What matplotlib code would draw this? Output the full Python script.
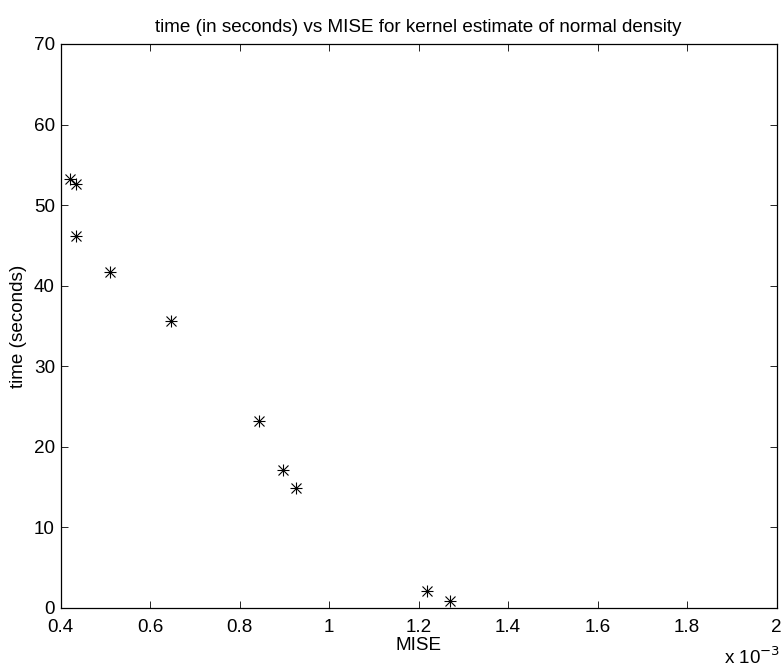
import matplotlib
matplotlib.use("Agg")
import matplotlib.pyplot as plt
from matplotlib.ticker import FuncFormatter, MultipleLocator

plt.rcParams['font.family'] = ['Liberation Sans', 'DejaVu Sans']

# MISE values and timings
mise = [0.421e-3, 0.434e-3, 0.434e-3, 0.511e-3, 0.646e-3,
        0.844e-3, 0.897e-3, 0.926e-3, 1.219e-3, 1.270e-3]
time_sec = [53.2, 52.6, 46.2, 41.7, 35.6, 23.2, 17.1, 14.9, 2.1, 0.9]

fs = 13.6

fig = plt.figure(figsize=(7.83, 6.69), dpi=100)
ax = fig.add_axes([60.5 / 783, 61 / 669, 716 / 783, 564 / 669])

# matlab style asterisk = plus + cross
ax.plot(mise, time_sec, linestyle='none', marker='+', color='k', ms=9, mew=0.8)
ax.plot(mise, time_sec, linestyle='none', marker='x', color='k', ms=7, mew=0.8)

ax.set_xlim(0.4e-3, 2e-3)
ax.set_ylim(0, 70)
ax.xaxis.set_major_locator(MultipleLocator(0.2e-3))
ax.yaxis.set_major_locator(MultipleLocator(10))
ax.xaxis.set_major_formatter(FuncFormatter(lambda v, p: "%g" % round(v * 1e3, 3)))

ax.tick_params(direction='in', top=True, right=True, labelsize=fs, length=5, width=0.6)
ax.tick_params(axis='x', pad=8)
ax.tick_params(axis='y', pad=4)
for s in ax.spines.values():
    s.set_linewidth(0.9)

ax.set_title("time (in seconds) vs MISE for kernel estimate of normal density", fontsize=fs, pad=9)
ax.set_xlabel("MISE", fontsize=fs, labelpad=1)
ax.set_ylabel("time (seconds)", fontsize=fs, labelpad=5)
fig.text(724 / 783, 1 - 657 / 669, r"x 10$^{-3}$", fontsize=fs, va='center', ha='left')

fig.savefig("out.png", dpi=100)
